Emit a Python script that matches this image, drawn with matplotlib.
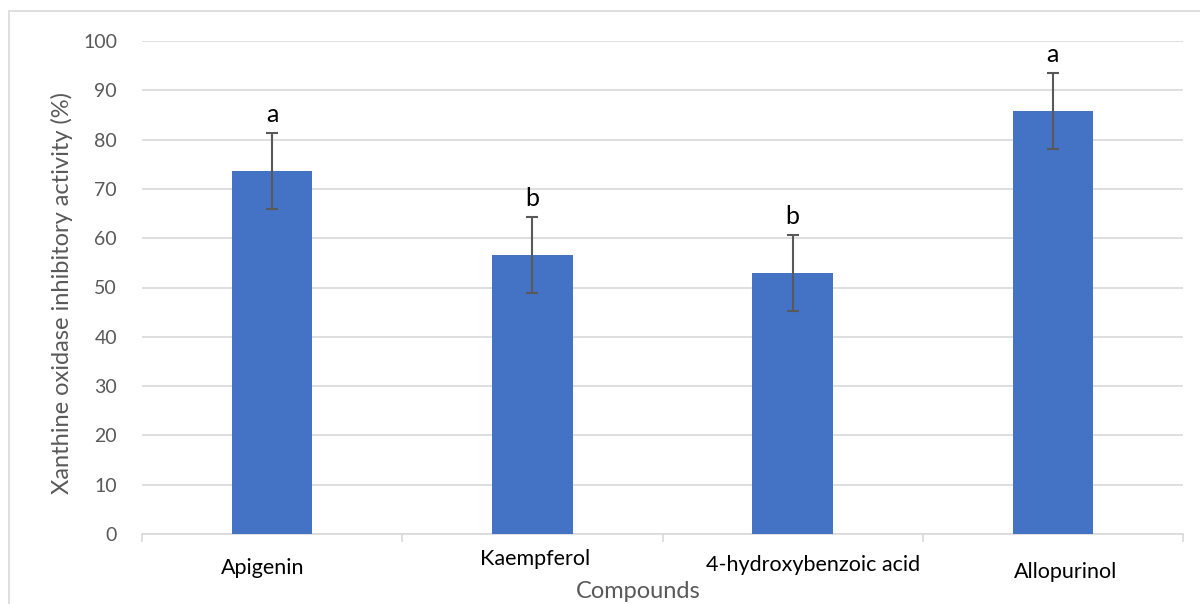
import matplotlib
matplotlib.use("Agg")
import matplotlib.pyplot as plt
from matplotlib.patches import Rectangle

# data
compounds = ["Apigenin", "Kaempferol", "4-hydroxybenzoic acid", "Allopurinol"]
inhibition = [73.6, 56.6, 52.9, 85.8]
sd = [7.7, 7.7, 7.7, 7.7]
letters = ["a", "b", "b", "a"]
y_ticks = [0, 10, 20, 30, 40, 50, 60, 70, 80, 90, 100]

# label nudges (pixels) to mimic hand-placed category labels
label_dx = [-9, 3, 20, 13]
label_dy = [-34, -25, -31, -38]

plt.rcParams['font.family'] = ['Lato', 'DejaVu Sans']

W, H = 1200, 604
fig = plt.figure(figsize=(W / 100, H / 100), dpi=100)
ax = fig.add_axes([142 / W, 1 - 534 / H, (1183 - 142) / W, (534 - 41) / H])

x = list(range(len(compounds)))
ax.bar(x, inhibition, width=0.31, color="#4472C4", zorder=3)
ax.errorbar(x, inhibition, yerr=sd, fmt="none", ecolor="#595959",
            elinewidth=1.5, capsize=4.3, capthick=1.5, zorder=4)

for xi, v, e, t in zip(x, inhibition, sd, letters):
    ax.annotate(t, (xi, v + e), xytext=(0, 5), textcoords="offset points",
                ha="center", va="bottom", fontsize=18, color="black")

ax.set_xlim(-0.5, len(compounds) - 0.5)
ax.set_ylim(0, 100)
ax.set_yticks(y_ticks)
ax.tick_params(axis="y", length=0, pad=18, labelsize=14, labelcolor="#595959")
ax.yaxis.grid(True, color="#D9D9D9", linewidth=1.2, zorder=0)

# category boundaries as tick marks, labels drawn separately
ax.set_xticks([i - 0.5 for i in range(len(compounds) + 1)])
ax.set_xticklabels([])
ax.tick_params(axis="x", length=6, width=1.2, color="#D9D9D9", direction="out")

for side in ["left", "right", "top"]:
    ax.spines[side].set_visible(False)
ax.spines["bottom"].set_color("#D9D9D9")
ax.spines["bottom"].set_linewidth(1.2)

for xi, name, dx, dy in zip(x, compounds, label_dx, label_dy):
    ax.annotate(name, (xi, 0), xycoords=("data", "axes fraction"),
                xytext=(dx * 0.72, dy * 0.72), textcoords="offset points",
                ha="center", va="center", fontsize=15.5, color="black")

fig.text(638 / W, 1 - 591 / H, "Compounds", ha="center", va="center",
         fontsize=17, color="#595959")
fig.text(62 / W, 1 - 293 / H, "Xanthine oxidase inhibitory activity (%)",
         rotation=90, ha="center", va="center", fontsize=17, color="#595959")

# chart area border like the spreadsheet frame
fig.add_artist(Rectangle((9 / W, -0.1), 1.2, 1 - 11 / H + 0.1,
                         transform=fig.transFigure, fill=False,
                         edgecolor="#D9D9D9", linewidth=1.2))

fig.savefig("out.png", dpi=100)
